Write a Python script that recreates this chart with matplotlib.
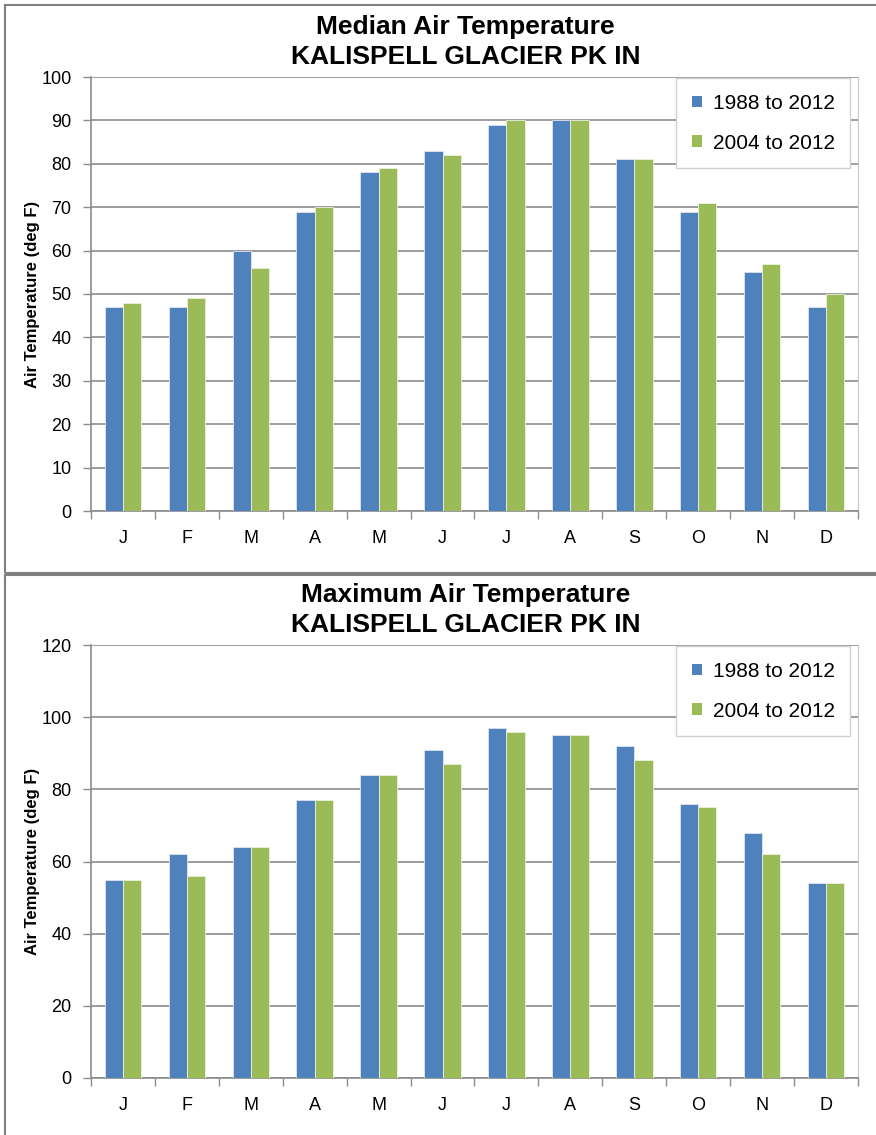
import numpy as np
import matplotlib
matplotlib.use('Agg')
import matplotlib.pyplot as plt
from matplotlib.patches import Rectangle

months = ['J', 'F', 'M', 'A', 'M', 'J', 'J', 'A', 'S', 'O', 'N', 'D']
series_names = ['1988 to 2012', '2004 to 2012']

median_long = [47, 47, 60, 69, 78, 83, 89, 90, 81, 69, 55, 47]
median_recent = [48, 49, 56, 70, 79, 82, 90, 90, 81, 71, 57, 50]

max_long = [55, 62, 64, 77, 84, 91, 97, 95, 92, 76, 68, 54]
max_recent = [55, 56, 64, 77, 84, 87, 96, 95, 88, 75, 62, 54]

station = 'KALISPELL GLACIER PK IN'

plt.rcParams['font.family'] = ['Liberation Sans', 'DejaVu Sans']

BLUE = '#4F81BD'
GREEN = '#9BBB59'
GRID = '#8C8C8C'


def draw_panel(fig, rect, long_vals, recent_vals, title, ymax, ystep):
    ax = fig.add_axes(rect)
    x = np.arange(len(months))
    w = 0.286
    ax.bar(x - w / 2, long_vals, w, color=BLUE, edgecolor='#DCE6F2', linewidth=0.6,
           label=series_names[0], zorder=3)
    ax.bar(x + w / 2, recent_vals, w, color=GREEN, edgecolor='#EBF1DE', linewidth=0.6,
           label=series_names[1], zorder=3)
    ax.set_xlim(-0.5, len(months) - 0.5)
    ax.set_ylim(0, ymax)
    ax.set_yticks(np.arange(0, ymax + 1, ystep))
    ax.yaxis.grid(True, color=GRID, linewidth=1.2, zorder=0)
    ax.set_xticks(x)
    ax.set_xticklabels(months)
    # category boundary ticks below the axis
    ax.set_xticks(np.arange(-0.5, len(months)), minor=True)
    ax.tick_params(axis='x', which='major', length=0, pad=14, labelsize=13)
    ax.tick_params(axis='x', which='minor', length=6, color=GRID, width=1)
    ax.tick_params(axis='y', length=6, color=GRID, width=1, labelsize=13, pad=8)
    ax.spines['top'].set_visible(False)
    ax.spines['right'].set_color('#C8C8C8')
    ax.spines['left'].set_color(GRID)
    ax.spines['bottom'].set_color(GRID)
    ax.spines['left'].set_linewidth(1.2)
    ax.spines['bottom'].set_linewidth(1.2)
    ax.set_ylabel('Air Temperature (deg F)', fontsize=12, fontweight='bold')
    ax.yaxis.set_label_coords(-(91 - 40) / 767, 0.5)
    h = rect[3] * 1135
    ax.text(0.488, 1.0 + 50 / h, title, transform=ax.transAxes, ha='center', va='center',
            fontsize=19, fontweight='bold')
    ax.text(0.488, 1.0 + 20 / h, station, transform=ax.transAxes, ha='center', va='center',
            fontsize=19, fontweight='bold')
    leg = ax.legend(loc='upper right', bbox_to_anchor=(0.99, 0.997), borderaxespad=0,
                    fontsize=15, handlelength=0.5, handleheight=0.5, handletextpad=0.5,
                    labelspacing=1.0, borderpad=0.75, fancybox=False, framealpha=1)
    leg.get_frame().set_edgecolor('#D0D0D0')
    leg.get_frame().set_linewidth(1)
    for hnd in leg.legend_handles:
        hnd.set_edgecolor('none')
    return ax


fig = plt.figure(figsize=(8.76, 11.35), dpi=100)

# outer chart frames
fig.patches.append(Rectangle((5 / 876, 1 - 573 / 1135), 1.0, 568 / 1135, transform=fig.transFigure,
                             fill=False, edgecolor='#7F7F7F', linewidth=1.5))
fig.patches.append(Rectangle((5 / 876, -0.01), 1.0, 1 - 575 / 1135 + 0.01, transform=fig.transFigure,
                             fill=False, edgecolor='#7F7F7F', linewidth=1.5))

draw_panel(fig, [91 / 876, 1 - 511 / 1135, 767 / 876, 434 / 1135],
           median_long, median_recent, 'Median Air Temperature', 100, 10)
draw_panel(fig, [91 / 876, 1 - 1078 / 1135, 767 / 876, 433 / 1135],
           max_long, max_recent, 'Maximum Air Temperature', 120, 20)

fig.savefig('out.png', dpi=100)
